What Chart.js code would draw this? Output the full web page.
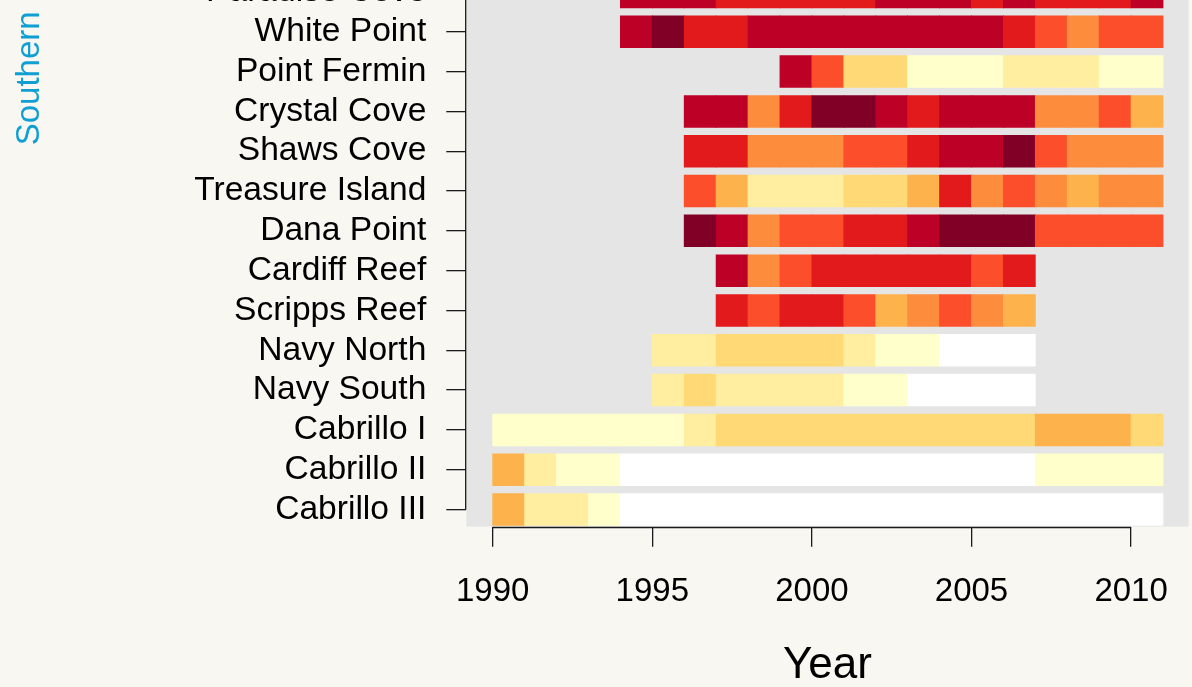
<!DOCTYPE html>
<html>
<head>
<meta charset="utf-8">
<script src="https://cdn.jsdelivr.net/npm/chart.js@4.4.1/dist/chart.umd.min.js"></script>
<style>
  html, body { margin: 0; padding: 0; width: 1192px; height: 687px; overflow: hidden; background: #f8f7f2; }
  #wrap { position: relative; width: 1192px; height: 687px; overflow: hidden; }
  #c { position: absolute; left: 0; top: -50px; width: 1192px; height: 760px; }
</style>
</head>
<body>
<div id="wrap"><canvas id="c" width="1192" height="760"></canvas></div>
<script>
// ---- data (survey level per year, null = not surveyed, 0 = zero) ----
const years = [1990,1991,1992,1993,1994,1995,1996,1997,1998,1999,2000,2001,2002,2003,2004,2005,2006,2007,2008,2009,2010];
const sites = ['Paradise Cove','White Point','Point Fermin','Crystal Cove','Shaws Cove','Treasure Island','Dana Point','Cardiff Reef','Scripps Reef','Navy North','Navy South','Cabrillo I','Cabrillo II','Cabrillo III'];
const n = null;
const paradiseCove   = [n,n,n,n,8,8,8,7,7,7,7,7,8,8,8,7,8,7,7,7,8];
const whitePoint     = [n,n,n,n,8,9,7,7,8,8,8,8,8,8,8,8,7,6,5,6,6];
const pointFermin    = [n,n,n,n,n,n,n,n,n,8,6,3,3,1,1,1,2,2,2,1,1];
const crystalCove    = [n,n,n,n,n,n,8,8,5,7,9,9,8,7,8,8,8,5,5,6,4];
const shawsCove      = [n,n,n,n,n,n,7,7,5,5,5,6,6,7,8,8,9,6,5,5,5];
const treasureIsland = [n,n,n,n,n,n,6,4,2,2,2,3,3,4,7,5,6,5,4,5,5];
const danaPoint      = [n,n,n,n,n,n,9,8,5,6,6,7,7,8,9,9,9,6,6,6,6];
const cardiffReef    = [n,n,n,n,n,n,n,8,5,6,7,7,7,7,7,6,7,n,n,n,n];
const scrippsReef    = [n,n,n,n,n,n,n,7,6,7,7,6,4,5,6,5,4,n,n,n,n];
const navyNorth      = [n,n,n,n,n,2,2,3,3,3,3,2,1,1,0,0,0,n,n,n,n];
const navySouth      = [n,n,n,n,n,2,3,2,2,2,2,1,1,0,0,0,0,n,n,n,n];
const cabrilloI      = [1,1,1,1,1,1,2,3,3,3,3,3,3,3,3,3,3,4,4,4,3];
const cabrilloII     = [4,2,1,1,0,0,0,0,0,0,0,0,0,0,0,0,0,1,1,1,1];
const cabrilloIII    = [4,2,2,1,0,0,0,0,0,0,0,0,0,0,0,0,0,0,0,0,0];
const siteLevels = [paradiseCove, whitePoint, pointFermin, crystalCove, shawsCove, treasureIsland, danaPoint, cardiffReef, scrippsReef, navyNorth, navySouth, cabrilloI, cabrilloII, cabrilloIII];
const xTickYears = [1990, 1995, 2000, 2005, 2010];
const groupLabel = 'Southern';
const xTitle = 'Year';
// colour per level (0 = white, 1..9 = YlOrRd)
const palette = ['#ffffff','#ffffcc','#ffeda0','#fed976','#feb24c','#fd8d3c','#fc4e2a','#e31a1c','#bd0026','#800026'];

// ---- build datasets ----
const FONT = "'Liberation Sans', Arial, sans-serif";
const nSites = sites.length;
const datasets = sites.map((name, i) => {
  const pos = nSites - i;
  const data = [], colors = [];
  siteLevels[i].forEach((lv, j) => {
    if (lv === null) return;
    data.push({ x: [years[j], years[j] + 1], y: pos });
    colors.push(palette[lv]);
  });
  return {
    label: name, data, backgroundColor: colors,
    borderWidth: 0, grouped: false,
    categoryPercentage: 1, barPercentage: 0.796,
    inflateAmount: 0.4
  };
});

const decor = {
  id: 'decor',
  beforeDraw(chart) {
    const { ctx, chartArea: a } = chart;
    ctx.save();
    ctx.fillStyle = '#e5e5e5';
    ctx.fillRect(a.left, a.top, a.right - a.left, a.bottom - a.top);
    ctx.restore();
  },
  afterDraw(chart) {
    const { ctx, chartArea: a, scales } = chart;
    ctx.save();
    ctx.strokeStyle = '#1a1a1a';
    ctx.lineWidth = 1.3;
    ctx.beginPath();
    const xs = scales.x, ys = scales.y;
    const yb = a.bottom + 0.8;
    ctx.moveTo(xs.getPixelForValue(xTickYears[0]), yb);
    ctx.lineTo(xs.getPixelForValue(xTickYears[xTickYears.length - 1]), yb);
    const xl = a.left - 0.6;
    ctx.moveTo(xl, ys.getPixelForValue(nSites));
    ctx.lineTo(xl, ys.getPixelForValue(1));
    ctx.stroke();
    // group label
    ctx.translate(39.3, 128.3);
    ctx.rotate(-Math.PI / 2);
    ctx.fillStyle = '#109fd3';
    ctx.font = '33px ' + FONT;
    ctx.textAlign = 'center';
    ctx.textBaseline = 'alphabetic';
    ctx.fillText(groupLabel, 0, 0);
    ctx.restore();
  }
};

const zeroPad = s => { s.paddingTop = 0; s.paddingBottom = 0; s.paddingLeft = 0; s.paddingRight = 0; };

new Chart(document.getElementById('c'), {
  type: 'bar',
  data: { datasets },
  plugins: [decor],
  options: {
    indexAxis: 'y',
    responsive: false,
    animation: false,
    devicePixelRatio: 1,
    layout: { padding: { top: 5, left: 0, right: 3.3, bottom: 0 } },
    plugins: { legend: { display: false }, tooltip: { enabled: false } },
    scales: {
      x: {
        type: 'linear', position: 'bottom', bounds: 'data', offset: false,
        min: 1989.173, max: 2011.805,
        afterBuildTicks: s => { s.ticks = xTickYears.map(v => ({ value: v })); },
        afterFit: s => { s.height = 183.3; zeroPad(s); },
        grid: { display: true, offset: false, drawOnChartArea: false, drawTicks: true, tickLength: 20, color: '#1a1a1a', lineWidth: 1.3 },
        border: { display: false },
        ticks: { font: { family: FONT, size: 33 }, color: '#000', padding: 25, maxRotation: 0, autoSkip: false, callback: v => String(v) },
        title: { display: true, text: xTitle, font: { family: FONT, size: 44 }, color: '#000', padding: { top: 0, bottom: 18 } }
      },
      y: {
        type: 'linear', position: 'left', bounds: 'data', offset: false,
        min: 0.568, max: 14.929,
        afterBuildTicks: s => { s.ticks = sites.map((_, i) => ({ value: nSites - i })); },
        afterFit: s => { s.width = 466.3; zeroPad(s); },
        grid: { display: true, offset: false, drawOnChartArea: false, drawTicks: true, tickLength: 20, color: '#1a1a1a', lineWidth: 1.3 },
        border: { display: false },
        ticks: { font: { family: FONT, size: 33.6 }, color: '#000', padding: 20, autoSkip: false, callback: v => sites[nSites - v] }
      }
    }
  }
});
</script>
</body>
</html>
